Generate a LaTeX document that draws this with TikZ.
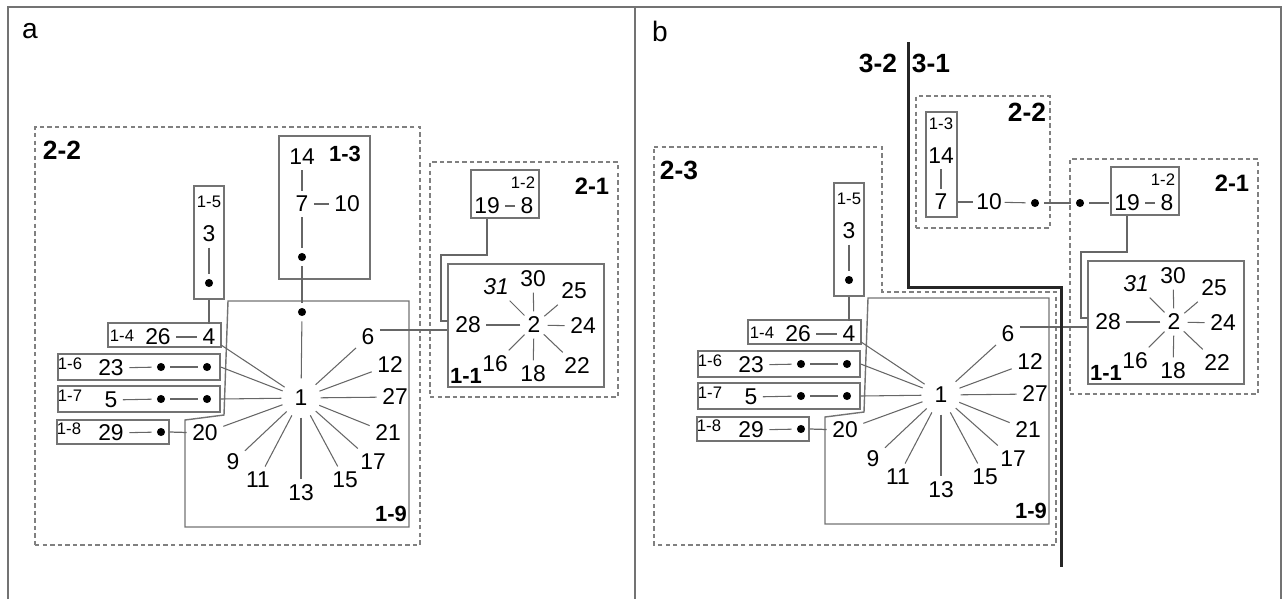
\documentclass[tikz,border=0pt]{standalone}
\usepackage{fontspec}
\setmainfont{Liberation Sans}
\usetikzlibrary{positioning}

\tikzset{
  num/.style={font=\fontsize{13}{15}\selectfont, inner sep=3pt},
  tag/.style={font=\fontsize{9.5}{11}\selectfont, inner sep=1pt},
  grp/.style={font=\bfseries\fontsize{13.5}{15}\selectfont, inner sep=1pt},
  grpbig/.style={font=\bfseries\fontsize{15}{17}\selectfont, inner sep=1pt},
  grpsmall/.style={font=\bfseries\fontsize{12.5}{14}\selectfont, inner sep=1pt},
  hub/.style={num, circle, inner sep=0pt, minimum size=22pt},
  hubsmall/.style={num, circle, inner sep=0pt, minimum size=15pt},
  dot/.style={circle, fill=black, inner sep=0pt, minimum size=4.6pt, outer sep=3pt},
  box/.style={draw=black!55, line width=0.8pt, inner sep=0pt},
  dashbox/.style={draw=black!50, line width=0.7pt, dash pattern=on 2.5pt off 1.8pt, inner sep=0pt},
  spoke/.style={draw=black!60, line width=0.6pt},
  link/.style={draw=black!60, line width=0.7pt},
  border/.style={draw=black!55, line width=0.8pt},
  cut/.style={draw=black!85, line width=1.7pt}
}

\newcommand{\starpanel}[1]{%
  \draw[box] (228,301) -- (409,301) -- (409,527) -- (185,527) -- (185,420) -- (224,415) -- cycle;
  \node[grpsmall] (#1t19) at (391,514) {1-9};
  \node[hub] (#1n1) at (301,398) {1};
  \foreach \n/\x/\y in {6/368/337, 12/390/365, 27/395/397, 21/388/433, 17/373/462,
                        15/345/480, 13/301/493, 11/258/480, 9/233/462, 20/205/433}{
    \node[num] (#1n\n) at (\x,\y) {\n};
    \draw[spoke] (#1n1) -- (#1n\n);
  }
  \node[box, minimum width=0.6cm, minimum height=2.26cm] (#1b15) at (209,242.5) {};
  \node[tag] (#1t15) at (209,202) {1-5};
  \node[num] (#1n3) at (209,234) {3};
  \node[dot] (#1d3) at (209,283) {};
  \draw[spoke] (#1n3) -- (#1d3);
  \node[box, minimum width=2.26cm, minimum height=0.48cm] (#1b14) at (164.5,335) {};
  \node[tag] (#1t14) at (122,336) {1-4};
  \node[num] (#1n26) at (158,337) {26};
  \node[num] (#1n4) at (209,337) {4};
  \draw[spoke] (#1n26) -- (#1n4);
  \draw[link] (#1b15.south) -- (#1n4.north);
  \draw[spoke] (#1n4) -- (#1n1);
  \foreach \bx/\lab/\yy in {6/23/367, 7/5/399}{
    \node[box, minimum width=3.24cm, minimum height=0.52cm] (#1b1\bx) at (139,\yy) {};
    \node[tag] (#1t1\bx) at (70,\yy-3) {1-\bx};
    \node[num] (#1n\lab) at (111,\yy+1) {\lab};
    \node[dot] (#1p\lab) at (161,\yy) {};
    \node[dot] (#1q\lab) at (207,\yy) {};
    \draw[spoke] (#1n\lab) -- (#1p\lab);
    \draw[spoke] (#1p\lab) -- (#1q\lab);
    \draw[spoke] (#1b1\bx.east) -- (#1n1);
  }
  \node[box, minimum width=2.24cm, minimum height=0.48cm] (#1b18) at (113,432) {};
  \node[tag] (#1t18) at (69,429) {1-8};
  \node[num] (#1n29) at (111,433) {29};
  \node[dot] (#1p29) at (161,432) {};
  \draw[spoke] (#1n29) -- (#1p29);
  \draw[link] (#1b18.east) -- (#1n20);
  % group 2-1
  \node[dashbox, minimum width=3.76cm, minimum height=4.7cm] (#1g21) at (524,279.5) {};
  \node[grp] (#1t21) at (592,186) {2-1};
  \node[box, minimum width=1.36cm, minimum height=0.96cm] (#1b12) at (505,194) {};
  \node[tag] (#1t12) at (523,183) {1-2};
  \node[num] (#1n19) at (487,206) {19};
  \node[num] (#1n8) at (527,206) {8};
  \draw[spoke] (#1n19) -- (#1n8);
  \node[box, minimum width=3.12cm, minimum height=2.46cm] (#1b11) at (526,325.5) {};
  \node[grpsmall] (#1t11) at (466,376) {1-1};
  \node[hubsmall] (#1n2) at (534,325) {2};
  \foreach \n/\x/\y in {28/468/325, 30/533/279, 25/574/291, 24/583/326,
                        22/577/366, 18/533/374, 16/495/364}{
    \node[num] (#1n\n) at (\x,\y) {\n};
    \draw[spoke] (#1n2) -- (#1n\n);
  }
  \node[num, font=\itshape\fontsize{13}{15}\selectfont] (#1n31) at (496,287) {31};
  \draw[spoke] (#1n2) -- (#1n31);
  \coordinate (#1c12) at (441,255);
  \coordinate (#1c28) at (448,321);
  \draw[link] (#1n19 |- #1b12.south) |- (#1c12) |- (#1c28);
  \draw[link] (#1n6.30) -- (#1n6.30 -| #1b11.west);
}

\begin{document}
\begin{tikzpicture}[x=0.02cm, y=-0.02cm]
  \useasboundingbox (0,0) rectangle (1287,599);
  \draw[border] (8,599) -- (8,7) -- (1281,7) -- (1281,599);
  \draw[border] (635,7) -- (635,599);

  % panel a
  \node[font=\fontsize{16}{18}\selectfont] (la) at (30,31) {a};
  \node[dashbox, minimum width=7.7cm, minimum height=8.36cm] (ag22) at (227.5,336) {};
  \node[grpbig] (at22) at (62,150) {2-2};
  \starpanel{a}
  \node[box, minimum width=1.82cm, minimum height=2.86cm] (ab13) at (324.5,207.5) {};
  \node[grpsmall] (at13) at (345,154) {1-3};
  \node[num] (an14) at (302,157) {14};
  \node[num] (an7) at (302,204) {7};
  \node[num] (an10) at (347,204) {10};
  \node[dot] (ad7) at (302,257) {};
  \node[dot] (ad1) at (302,312) {};
  \draw[spoke] (an14) -- (an7);
  \draw[spoke] (an7) -- (an10);
  \draw[spoke] (an7) -- (ad7);
  \draw[link] (ad7) -- (ad1);
  \draw[spoke] (ad1) -- (an1);

  % panel b
  \node[font=\fontsize{16}{18}\selectfont] (lb) at (660,31) {b};
  \draw[dashbox] (654,147) -- (882,147) -- (882,292) -- (1056,292) -- (1056,545) -- (654,545) -- cycle;
  \node[grpbig] (bt23) at (679,170) {2-3};
  \begin{scope}[shift={(640,-3)}]
    \starpanel{b}
  \end{scope}
  \draw[cut] (908,42) -- (908,287) -- (1061,287) -- (1061,567);
  \node[grpbig] (bt32) at (878,63) {3-2};
  \node[grpbig] (bt31) at (931,63) {3-1};
  \node[dashbox, minimum width=2.68cm, minimum height=2.64cm] (bg22) at (983,162) {};
  \node[grpbig] (bt22) at (1027,112) {2-2};
  \node[box, minimum width=0.62cm, minimum height=2.1cm] (bb13) at (941.5,164.5) {};
  \node[tag] (bt13) at (941,124) {1-3};
  \node[num] (bn14) at (941,156) {14};
  \node[num] (bn7) at (941,202) {7};
  \node[num, inner sep=1.5pt] (bn10) at (989,202) {10};
  \node[dot] (bp10) at (1035,203) {};
  \node[dot] (bq10) at (1080,203) {};
  \draw[spoke] (bn14) -- (bn7);
  \draw[link] (bn7 -| bb13.east) -- (bn10);
  \draw[spoke] (bn10) -- (bp10);
  \draw[link] (bp10) -- (bq10);
  \draw[link] (bq10) -- (bn19);
\end{tikzpicture}
\end{document}
